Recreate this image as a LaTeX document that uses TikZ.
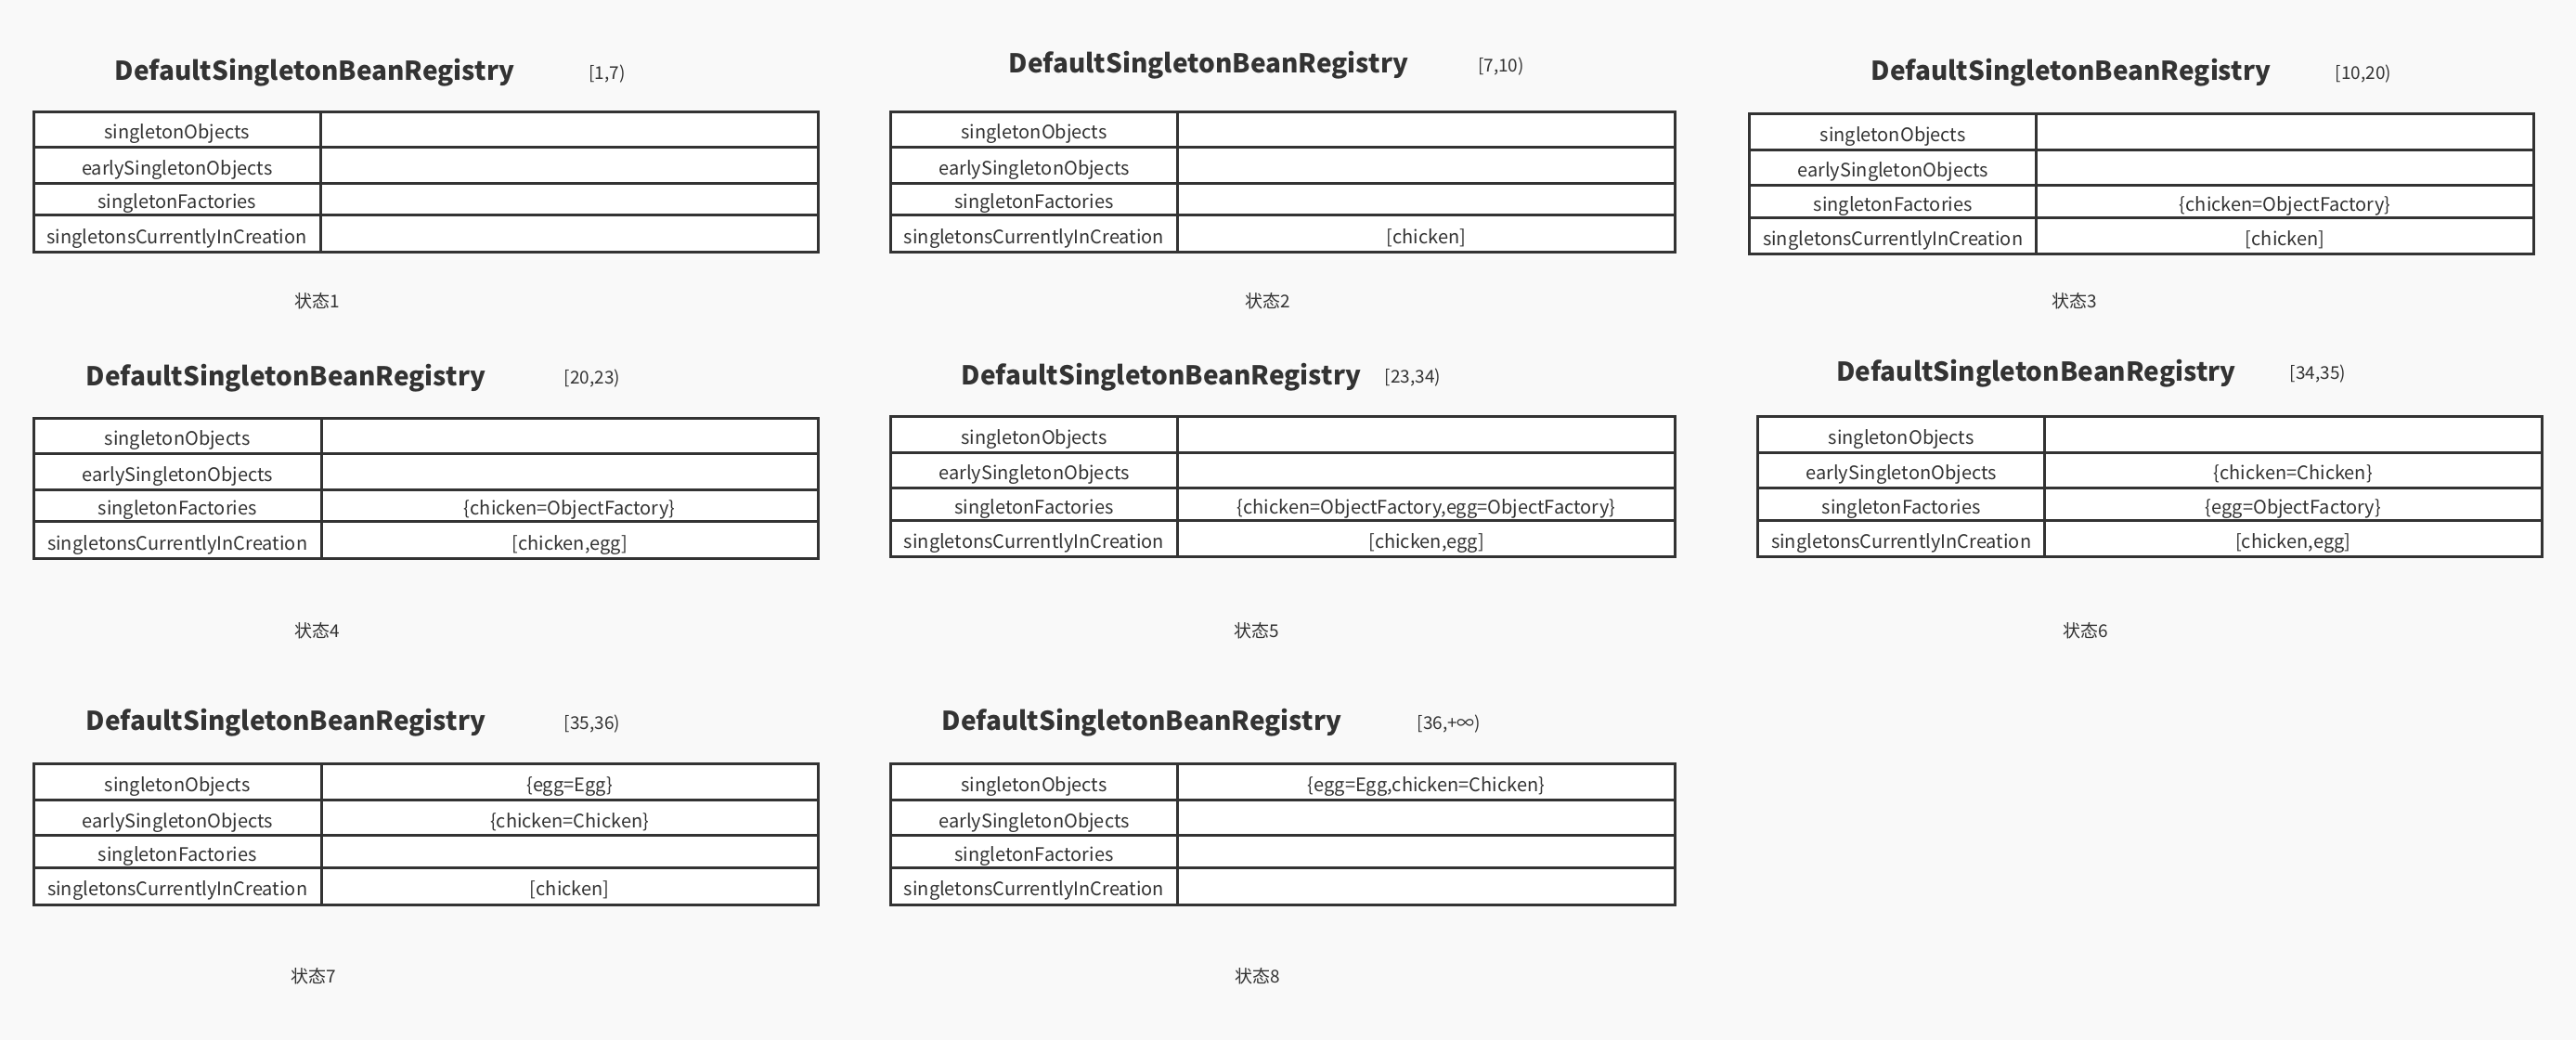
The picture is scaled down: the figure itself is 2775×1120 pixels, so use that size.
\documentclass[tikz,border=0pt]{standalone}
\usepackage{fontspec}
\setmainfont{Noto Sans CJK SC}
\definecolor{ink}{HTML}{333333}
\definecolor{bg}{HTML}{F9F9F9}
\tikzset{
  cell/.style={draw=ink, line width=3pt, fill=white, anchor=north west, inner sep=0pt, outer sep=0pt, text=ink, text height=21pt, text depth=0pt, font=\fontsize{20}{24}\selectfont},
  regtitle/.style={anchor=base, text=ink, font=\bfseries\fontsize{28}{32}\selectfont},
  interval/.style={anchor=base, text=ink, font=\fontsize{19}{22}\selectfont},
  statelabel/.style={anchor=base, text=ink, font=\fontsize{19}{22}\selectfont},
}
% #1 prefix, #2 left x, #3 divider x, #4 right x, #5 top y, #6-#9 values
\newcommand\regtable[9]{%
  \node[cell, minimum width={#3pt-#2pt}, minimum height=38.7pt] (#1k1) at (#2,#5) {singletonObjects};
  \node[cell, minimum width={#3pt-#2pt}, minimum height=38.3pt] (#1k2) at (#2,{#5+38.7}) {earlySingletonObjects};
  \node[cell, minimum width={#3pt-#2pt}, minimum height=34.7pt] (#1k3) at (#2,{#5+77}) {singletonFactories};
  \node[cell, minimum width={#3pt-#2pt}, minimum height=39.6pt] (#1k4) at (#2,{#5+111.7}) {singletonsCurrentlyInCreation};
  \node[cell, minimum width={#4pt-#3pt}, minimum height=38.7pt] (#1v1) at (#3,#5) {#6};
  \node[cell, minimum width={#4pt-#3pt}, minimum height=38.3pt] (#1v2) at (#3,{#5+38.7}) {#7};
  \node[cell, minimum width={#4pt-#3pt}, minimum height=34.7pt] (#1v3) at (#3,{#5+77}) {#8};
  \node[cell, minimum width={#4pt-#3pt}, minimum height=39.6pt] (#1v4) at (#3,{#5+111.7}) {#9};
}
\begin{document}
\begin{tikzpicture}[x=1pt, y=-1pt]
  \path[fill=bg, use as bounding box] (0,0) rectangle (2775,1120);

  % State 1
  \node[regtitle] (t1) at (339,86.7) {DefaultSingletonBeanRegistry};
  \node[interval] (i1) at (654,85.5) {[1,7)};
  \regtable{a}{36.4}{345}{881.5}{120}{}{}{}{}
  \node[statelabel] (s1) at (342,331) {状态1};

  % State 2
  \node[regtitle] (t2) at (1302,78.3) {DefaultSingletonBeanRegistry};
  \node[interval] (i2) at (1617,77) {[7,10)};
  \regtable{b}{959.4}{1268.6}{1804.4}{120}{}{}{}{[chicken]}
  \node[statelabel] (s2) at (1366,331) {状态2};

  % State 3
  \node[regtitle] (t3) at (2231,86.7) {DefaultSingletonBeanRegistry};
  \node[interval] (i3) at (2546,85.5) {[10,20)};
  \regtable{c}{1884.5}{2193.8}{2729.5}{122.3}{}{}{\{chicken=ObjectFactory\}}{[chicken]}
  \node[statelabel] (s3) at (2235,331) {状态3};

  % State 4
  \node[regtitle] (t4) at (308,415) {DefaultSingletonBeanRegistry};
  \node[interval] (i4) at (638,413.5) {[20,23)};
  \regtable{d}{36.4}{346}{881.4}{450}{}{}{\{chicken=ObjectFactory\}}{[chicken,egg]}
  \node[statelabel] (s4) at (342,686) {状态4};

  % State 5
  \node[regtitle] (t5) at (1251,414) {DefaultSingletonBeanRegistry};
  \node[interval] (i5) at (1522,412.5) {[23,34)};
  \regtable{e}{959.4}{1268.6}{1804.4}{448.3}{}{}{\{chicken=ObjectFactory,egg=ObjectFactory\}}{[chicken,egg]}
  \node[statelabel] (s5) at (1354,686) {状态5};

  % State 6
  \node[regtitle] (t6) at (2193.5,410) {DefaultSingletonBeanRegistry};
  \node[interval] (i6) at (2497,408.5) {[34,35)};
  \regtable{f}{1893.8}{2202.5}{2738.2}{448.3}{}{\{chicken=Chicken\}}{\{egg=ObjectFactory\}}{[chicken,egg]}
  \node[statelabel] (s6) at (2247,686) {状态6};

  % State 7
  \node[regtitle] (t7) at (308,786.7) {DefaultSingletonBeanRegistry};
  \node[interval] (i7) at (638,785) {[35,36)};
  \regtable{g}{36.4}{346}{881.4}{822.7}{\{egg=Egg\}}{\{chicken=Chicken\}}{}{[chicken]}
  \node[statelabel] (s7) at (338,1058) {状态7};

  % State 8
  \node[regtitle] (t8) at (1230,786.7) {DefaultSingletonBeanRegistry};
  \node[interval] (i8) at (1561,785) {[36,+∞)};
  \regtable{h}{959.4}{1268.6}{1804.4}{822.7}{\{egg=Egg,chicken=Chicken\}}{}{}{}
  \node[statelabel] (s8) at (1355,1058) {状态8};
\end{tikzpicture}
\end{document}
